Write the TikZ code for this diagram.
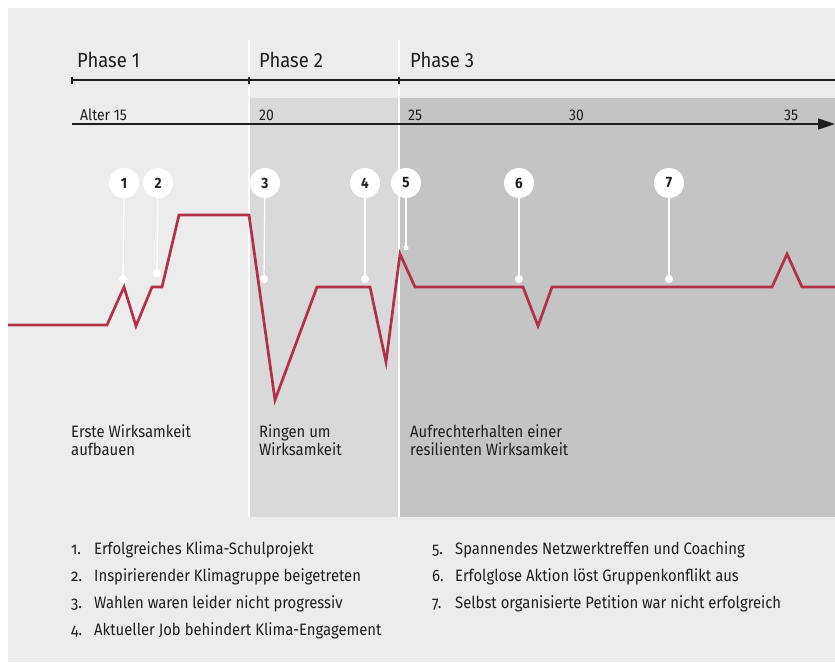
\documentclass[tikz,border=0pt]{standalone}
\usepackage{fontspec}
\setmainfont{Fira Sans}[FakeStretch=0.9]
\usetikzlibrary{positioning,arrows.meta}

\definecolor{bggray}{HTML}{ECECEC}
\definecolor{phasetwo}{HTML}{D9D9D9}
\definecolor{phasethree}{HTML}{C4C4C4}
\definecolor{curvered}{HTML}{B3304B}
\definecolor{textgray}{HTML}{1E1E1E}

\tikzset{
  marker/.style={circle, fill=white, minimum size=30pt, inner sep=0pt, text=textgray, font=\fontsize{15}{17}\selectfont\bfseries},
  markerdot/.style={circle, fill=white, minimum size=#1, inner sep=0pt},
  stem/.style={white, line width=1.3pt},
  phaselabel/.style={anchor=base west, inner sep=0pt, text=textgray, font=\fontsize{20.5}{23}\selectfont},
  agelabel/.style={anchor=base west, inner sep=0pt, text=textgray, font=\fontsize{15.5}{18}\selectfont},
  desc/.style={anchor=north west, align=left, inner sep=0pt, text=textgray, font=\fontsize{16.5}{18.5}\selectfont},
  legend/.style={anchor=base west, inner sep=0pt, text=textgray, font=\fontsize{16.5}{19}\selectfont},
  axisline/.style={textgray, line width=1.3pt},
}

\begin{document}
\begin{tikzpicture}[x=1pt, y=-1pt]
    \useasboundingbox (0,0) rectangle (835,662);
    \fill[bggray] (8,8) rectangle (835,662); % background
    \fill[phasetwo] (249,98) rectangle (399,517); % Phase 2 area
    \fill[phasethree] (399,98) rectangle (835,517); % Phase 3 area
    \draw[white, line width=1.3pt] (249,40) -- (249,517);
    \draw[white, line width=1.3pt] (399,40) -- (399,517);

    % phase line
    \draw[axisline] (72,80) -- (835,80);
    \foreach \x in {72,249,399}
        \draw[axisline] (\x,76.5) -- (\x,83.5);
    \node[phaselabel] (ph1) at (77,67) {Phase 1};
    \node[phaselabel] (ph2) at (259,67) {Phase 2};
    \node[phaselabel] (ph3) at (410,67) {Phase 3};

    % age axis
    \draw[axisline, -{Triangle[length=17pt, width=11pt]}] (72,124) -- (835,124);
    \node[agelabel] (age15) at (80,120) {Alter 15};
    \node[agelabel] (age20) at (259,120) {20};
    \node[agelabel] (age25) at (408,120) {25};
    \node[agelabel] (age30) at (569,120) {30};
    \node[agelabel] (age35) at (784,120) {35};

    % phase descriptions
    \node[desc] (desc1) at (71,424) {Erste Wirksamkeit\\aufbauen};
    \node[desc] (desc2) at (259,424) {Ringen um\\Wirksamkeit};
    \node[desc] (desc3) at (410,424) {Aufrechterhalten einer\\resilienten Wirksamkeit};

    % events
    \foreach \n/\x/\dx/\dy/\ds in {1/124/123/279/8, 2/158/157/273/8, 3/265/264/279/8, 4/365/365/279/8,
                                  5/406/406/248/5, 6/519/519/279/8, 7/669/669/279/8} {
        \node[marker] (m\n) at (\x,183) {\n};
        \node[markerdot=\ds pt] (d\n) at (\dx,\dy) {};
        \draw[stem] (m\n) -- (d\n.center);
    }

    % effectiveness curve
    \draw[curvered, line width=2.7pt, line join=miter]
        (8,325) -- (107,325) -- (124,287) -- (136,326) -- (152,287) -- (162,287)
        -- (179,215) -- (249,215) -- (275,400) -- (317,287) -- (370,287)
        -- (386,362) -- (400,254) -- (415,287) -- (523,287) -- (538,326)
        -- (552,287) -- (772,287) -- (787,254) -- (802,287) -- (835,287);

    % legend
    \foreach \n/\x/\y/\txt in {1/71/554/Erfolgreiches Klima-Schulprojekt,
                              2/71/581/Inspirierender Klimagruppe beigetreten,
                              3/71/608/Wahlen waren leider nicht progressiv,
                              4/71/635/Aktueller Job behindert Klima-Engagement,
                              5/432/554/Spannendes Netzwerktreffen und Coaching,
                              6/432/581/Erfolglose Aktion löst Gruppenkonflikt aus,
                              7/432/608/Selbst organisierte Petition war nicht erfolgreich} {
        \node[legend] (num\n) at (\x,\y) {\addfontfeatures{Numbers=OldStyle}\n.};
        \node[legend] (leg\n) at (\x+23,\y) {\txt};
    }
\end{tikzpicture}
\end{document}
